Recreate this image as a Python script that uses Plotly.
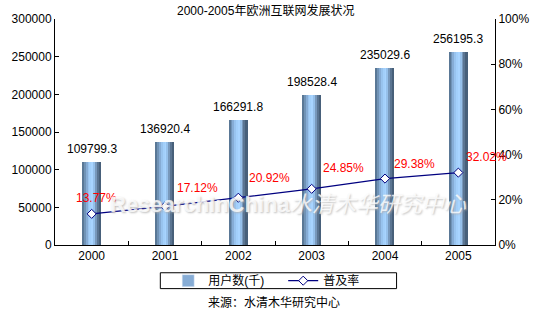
import plotly.graph_objects as go

# ---- data ----
years = ["2000", "2001", "2002", "2003", "2004", "2005"]
users = [109799.3, 136920.4, 166291.8, 198528.4, 235029.6, 256195.3]
penetration = [0.1377, 0.1712, 0.2092, 0.2485, 0.2938, 0.3202]
pen_labels = ["13.77%", "17.12%", "20.92%", "24.85%", "29.38%", "32.02%"]
user_labels = ["109799.3", "136920.4", "166291.8", "198528.4", "235029.6", "256195.3"]

# ---- style ----
FONT = "Liberation Sans, Arial, Noto Sans CJK SC, sans-serif"
BAR_W = 0.25
strip_colors = ["#5a7896", "#7093b6", "#86acd5", "#98c3ee", "#a2cffa",
                "#a8d4ff", "#96c0ea", "#7898bb", "#5b7592", "#48607a"]
lbl_dx = [5, 32, 31, 32, 29, 28]
lbl_dy = [16, 18, 20, 21, 15, 16]

fig = go.Figure()
n = len(strip_colors)
sw = BAR_W / n
for i, c in enumerate(strip_colors):
    fig.add_trace(go.Bar(
        x=years, y=users, width=sw, offset=-BAR_W / 2 + i * sw,
        marker=dict(color=c, line=dict(width=0)),
        showlegend=False, hoverinfo="skip", yaxis="y"))
# legend proxy for bars
fig.add_trace(go.Bar(x=[None], y=[None], name="用户数(千)",
                     marker=dict(color="#86acd5"), yaxis="y"))

fig.add_trace(go.Scatter(
    x=years, y=penetration, mode="lines+markers", name="普及率", yaxis="y2",
    line=dict(color="#000080", width=1.3),
    marker=dict(symbol="diamond", size=7, color="white",
                line=dict(color="#000080", width=1))))

annotations = []
for i, (v, t) in enumerate(zip(users, user_labels)):
    annotations.append(dict(x=i, y=v, xref="x", yref="y", text=t, showarrow=False,
                            yanchor="middle", yshift=13,
                            font=dict(family=FONT, size=12, color="black")))
for i, (v, t, dx, dy) in enumerate(zip(penetration, pen_labels, lbl_dx, lbl_dy)):
    annotations.append(dict(x=i, y=v, xref="x", yref="y2", text=t, showarrow=False,
                            yanchor="middle", xshift=dx, yshift=dy,
                            font=dict(family=FONT, size=12, color="#ff0000")))

annotations.append(dict(x=0.478, y=1.039, xref="paper", yref="paper", yanchor="middle",
                        text="2000-2005年欧洲互联网发展状况", showarrow=False,
                        font=dict(family=FONT, size=12, color="black")))
annotations.append(dict(x=0.497, y=-0.254, xref="paper", yref="paper", yanchor="middle",
                        text="来源：水清木华研究中心", showarrow=False,
                        font=dict(family=FONT, size=12, color="black")))
annotations.append(dict(x=0.53, y=0.18, xref="paper", yref="paper", yanchor="middle",
                        text="<b>ResearchInChina</b><i>水清木华研究中心</i>", showarrow=False,
                        font=dict(family=FONT, size=22, color="rgba(255,255,255,0.8)",
                                  shadow="1px 1px 2px #b0b0b0")))

# legend frame (paper coords)
shapes = [dict(type="rect", xref="paper", yref="paper",
               x0=(160 - 53) / 447, x1=(400 - 53) / 447,
               y0=(245 - 289) / 228, y1=(245 - 273) / 228,
               line=dict(color="black", width=1), fillcolor="white", layer="below")]

fig.update_layout(
    width=541, height=313,
    margin=dict(l=53, r=41, t=17, b=68),
    paper_bgcolor="white", plot_bgcolor="rgba(0,0,0,0)",
    barmode="overlay", bargap=0,
    font=dict(family=FONT, size=12, color="black"),
    showlegend=True,
    legend=dict(orientation="h", x=(168 - 53) / 447, y=(245 - 281) / 228,
                xanchor="left", yanchor="middle",
                borderwidth=0, bgcolor="rgba(0,0,0,0)",
                font=dict(family=FONT, size=12), itemwidth=30,
                entrywidth=70, tracegroupgap=0),
    xaxis=dict(type="category", range=[-0.5, 5.5], showline=True, linecolor="black",
               linewidth=1, ticks="inside", ticklen=4, tickcolor="black",
               tickson="boundaries", showgrid=False, zeroline=False,
               tickfont=dict(family=FONT, size=12)),
    yaxis=dict(range=[0, 300000], dtick=50000, showline=True, linecolor="black",
               linewidth=1, ticks="inside", ticklen=4, tickcolor="black",
               showgrid=False, zeroline=False, tickformat="d",
               tickfont=dict(family=FONT, size=12)),
    yaxis2=dict(range=[0, 1], dtick=0.2, tickformat=".0%", overlaying="y", side="right",
                showline=True, linecolor="black", linewidth=1, ticks="inside",
                ticklen=4, tickcolor="black", showgrid=False, zeroline=False,
                tickfont=dict(family=FONT, size=12)),
    annotations=annotations,
    shapes=shapes,
)

fig.write_html("out.html")
